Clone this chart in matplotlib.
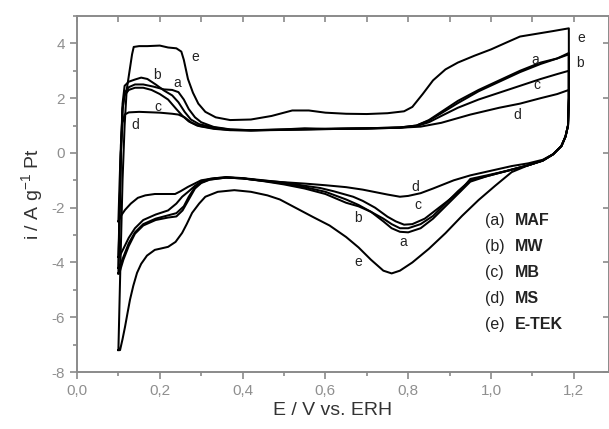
import matplotlib
matplotlib.use("Agg")
import matplotlib.pyplot as plt
from matplotlib.ticker import MultipleLocator, FuncFormatter

plt.rcParams['font.family'] = ['Liberation Sans', 'DejaVu Sans']

# ---- data: (E / V, i / A g-1 Pt), anodic sweep followed by cathodic sweep ----
maf_E = [0.100, 0.103, 0.106, 0.110, 0.115, 0.125, 0.140, 0.160, 0.185, 0.210, 0.230, 0.245, 0.258, 0.270,
         0.285, 0.300, 0.330, 0.370, 0.420, 0.500, 0.550, 0.600, 0.700, 0.780, 0.820, 0.850, 0.880, 0.920,
         0.970, 1.020, 1.070, 1.120, 1.160, 1.188,
         1.188, 1.186, 1.180, 1.170, 1.150, 1.125, 1.090, 1.040, 0.990, 0.950, 0.920, 0.890, 0.860, 0.830,
         0.800, 0.780, 0.760, 0.740, 0.710, 0.680, 0.650, 0.600, 0.550, 0.500, 0.450, 0.400, 0.360, 0.320,
         0.300, 0.285, 0.270, 0.255, 0.240, 0.220, 0.190, 0.160, 0.140, 0.125, 0.112, 0.102, 0.100]
maf_I = [-4.4, -2.0, 0.0, 1.6, 2.2, 2.4, 2.5, 2.5, 2.42, 2.32, 2.3, 2.22, 1.95, 1.6,
         1.3, 1.12, 0.95, 0.86, 0.83, 0.86, 0.9, 0.88, 0.9, 0.93, 1.0, 1.2, 1.5, 1.9,
         2.3, 2.65, 3.0, 3.3, 3.45, 3.6,
         2.0, 1.0, 0.6, 0.25, -0.05, -0.28, -0.45, -0.65, -0.85, -1.05, -1.5, -1.95, -2.4, -2.75,
         -2.9, -2.88, -2.75, -2.5, -2.15, -1.9, -1.7, -1.42, -1.25, -1.12, -1.02, -0.93, -0.9, -0.98,
         -1.1, -1.3, -1.7, -2.1, -2.32, -2.36, -2.45, -2.65, -2.95, -3.4, -3.9, -4.4, -4.4]

mw_E = [0.100, 0.103, 0.106, 0.110, 0.115, 0.125, 0.140, 0.155, 0.170, 0.190, 0.210, 0.230, 0.245, 0.260,
        0.275, 0.295, 0.330, 0.370, 0.420, 0.500, 0.600, 0.700, 0.780, 0.820, 0.850, 0.880, 0.920, 0.970,
        1.020, 1.070, 1.120, 1.160, 1.188,
        1.188, 1.186, 1.180, 1.170, 1.150, 1.125, 1.090, 1.040, 0.990, 0.950, 0.920, 0.890, 0.860, 0.830,
        0.800, 0.780, 0.760, 0.740, 0.710, 0.680, 0.650, 0.600, 0.550, 0.500, 0.450, 0.400, 0.360, 0.320,
        0.300, 0.285, 0.270, 0.258, 0.240, 0.220, 0.190, 0.160, 0.140, 0.125, 0.112, 0.102, 0.100]
mw_I = [-4.2, -2.0, 0.0, 1.8, 2.45, 2.6, 2.68, 2.75, 2.7, 2.5, 2.28, 2.1, 1.85, 1.5,
        1.22, 1.05, 0.93, 0.85, 0.83, 0.85, 0.88, 0.9, 0.93, 1.0, 1.18, 1.45, 1.82, 2.25,
        2.6, 2.95, 3.25, 3.45, 3.65,
        2.0, 1.0, 0.6, 0.25, -0.05, -0.28, -0.45, -0.65, -0.85, -1.0, -1.4, -1.85, -2.3, -2.6,
        -2.75, -2.75, -2.6, -2.4, -2.15, -1.95, -1.82, -1.5, -1.3, -1.15, -1.03, -0.93, -0.9, -0.97,
        -1.08, -1.25, -1.6, -1.95, -2.2, -2.28, -2.4, -2.6, -2.9, -3.3, -3.8, -4.2, -4.2]

mb_E = [0.100, 0.103, 0.106, 0.110, 0.115, 0.125, 0.140, 0.160, 0.180, 0.200, 0.220, 0.240, 0.255, 0.270,
        0.290, 0.330, 0.370, 0.420, 0.500, 0.600, 0.700, 0.780, 0.820, 0.850, 0.880, 0.920, 0.970, 1.020,
        1.070, 1.120, 1.160, 1.188,
        1.188, 1.186, 1.180, 1.170, 1.150, 1.125, 1.090, 1.040, 0.990, 0.950, 0.925, 0.900, 0.870, 0.840,
        0.810, 0.790, 0.770, 0.750, 0.720, 0.690, 0.667, 0.620, 0.587, 0.550, 0.500, 0.450, 0.400, 0.360,
        0.320, 0.300, 0.285, 0.270, 0.254, 0.240, 0.220, 0.190, 0.160, 0.140, 0.125, 0.112, 0.102, 0.100]
mb_I = [-3.8, -2.0, 0.0, 1.6, 2.1, 2.3, 2.38, 2.38, 2.3, 2.15, 1.95, 1.6, 1.35, 1.15,
        1.0, 0.9, 0.84, 0.82, 0.84, 0.87, 0.89, 0.92, 0.98, 1.12, 1.35, 1.65, 1.95, 2.2,
        2.45, 2.7, 2.88, 3.0,
        2.0, 1.0, 0.6, 0.25, -0.05, -0.28, -0.45, -0.65, -0.82, -0.95, -1.4, -1.7, -2.05, -2.4,
        -2.6, -2.62, -2.5, -2.33, -2.0, -1.75, -1.6, -1.4, -1.28, -1.2, -1.08, -1.0, -0.92, -0.88,
        -0.95, -1.05, -1.2, -1.4, -1.6, -1.85, -2.1, -2.25, -2.45, -2.75, -3.1, -3.5, -3.8, -3.8]

ms_E = [0.100, 0.103, 0.106, 0.110, 0.115, 0.125, 0.150, 0.200, 0.230, 0.245, 0.260, 0.275, 0.295, 0.330,
        0.370, 0.420, 0.500, 0.600, 0.700, 0.780, 0.830, 0.880, 0.950, 1.020, 1.070, 1.120, 1.160, 1.188,
        1.188, 1.186, 1.180, 1.170, 1.150, 1.125, 1.090, 1.050, 1.000, 0.950, 0.910, 0.890, 0.860, 0.830,
        0.800, 0.780, 0.750, 0.720, 0.690, 0.650, 0.600, 0.550, 0.490, 0.440, 0.400, 0.360, 0.333, 0.300,
        0.280, 0.268, 0.250, 0.237, 0.188, 0.165, 0.147, 0.130, 0.116, 0.106, 0.100]
ms_I = [-2.5, -1.0, 0.3, 1.1, 1.4, 1.48, 1.5, 1.47, 1.43, 1.4, 1.3, 1.12, 0.98, 0.88,
        0.83, 0.82, 0.85, 0.87, 0.89, 0.92, 0.96, 1.1, 1.4, 1.65, 1.8, 2.0, 2.15, 2.3,
        2.0, 1.0, 0.6, 0.25, -0.05, -0.25, -0.38, -0.48, -0.65, -0.82, -1.0, -1.12, -1.3, -1.47,
        -1.57, -1.6, -1.52, -1.43, -1.34, -1.25, -1.18, -1.12, -1.06, -1.0, -0.93, -0.9, -0.92, -1.0,
        -1.15, -1.24, -1.4, -1.5, -1.5, -1.55, -1.64, -1.85, -2.08, -2.3, -2.5]

etek_E = [0.100, 0.105, 0.110, 0.115, 0.120, 0.127, 0.133, 0.137, 0.150, 0.170, 0.200, 0.220, 0.240, 0.252,
          0.258, 0.268, 0.280, 0.293, 0.310, 0.335, 0.370, 0.420, 0.470, 0.520, 0.560, 0.600, 0.650, 0.700,
          0.750, 0.790, 0.810, 0.835, 0.860, 0.890, 0.920, 0.960, 1.000, 1.040, 1.070, 1.110, 1.150, 1.188,
          1.188, 1.186, 1.180, 1.170, 1.150, 1.125, 1.090, 1.050, 1.010, 0.970, 0.930, 0.890, 0.850, 0.810,
          0.780, 0.760, 0.740, 0.710, 0.680, 0.650, 0.610, 0.570, 0.540, 0.490, 0.460, 0.420, 0.380, 0.340,
          0.310, 0.295, 0.278, 0.265, 0.254, 0.238, 0.220, 0.200, 0.188, 0.169, 0.155, 0.145, 0.136, 0.128,
          0.122, 0.116, 0.110, 0.104, 0.100]
etek_I = [-7.2, -4.0, -1.0, 1.0, 2.3, 3.0, 3.6, 3.87, 3.9, 3.9, 3.92, 3.85, 3.82, 3.7,
          3.4, 2.7, 2.2, 1.8, 1.5, 1.3, 1.2, 1.22, 1.35, 1.55, 1.55, 1.47, 1.43, 1.42,
          1.45, 1.52, 1.68, 2.15, 2.65, 3.05, 3.3, 3.55, 3.78, 4.05, 4.25, 4.35, 4.45, 4.55,
          2.0, 1.0, 0.6, 0.25, -0.05, -0.28, -0.45, -0.7, -1.2, -1.72, -2.3, -2.93, -3.5, -4.0,
          -4.3, -4.4, -4.3, -3.9, -3.45, -3.07, -2.65, -2.34, -2.1, -1.7, -1.55, -1.42, -1.36, -1.42,
          -1.6, -1.85, -2.19, -2.6, -2.92, -3.25, -3.43, -3.5, -3.54, -3.75, -4.05, -4.38, -4.85, -5.36,
          -5.85, -6.35, -6.8, -7.2, -7.2]

# curve letters and their label positions (E, i)
curve_letters = ['a', 'b', 'c', 'd', 'e']
sample_names = ['MAF', 'MW', 'MB', 'MS', 'E-TEK']
label_pos_E = [0.242, 0.193, 0.196, 0.140, 0.285,
               1.106, 1.215, 1.110, 1.063, 1.217,
               0.787, 0.679, 0.824, 0.816, 0.679]
label_pos_I = [2.55, 2.85, 1.68, 1.02, 3.50,
               3.40, 3.28, 2.48, 1.39, 4.20,
               -3.25, -2.37, -1.90, -1.24, -3.98]
label_letters = curve_letters * 3

x_ticks = [0.0, 0.2, 0.4, 0.6, 0.8, 1.0, 1.2]
y_ticks = [-8, -6, -4, -2, 0, 2, 4]

# ---- figure ----
W, H = 609, 429
fig = plt.figure(figsize=(W / 100, H / 100), dpi=100)
ax = fig.add_axes([77 / W, 1 - 372 / H, (W - 77) / W, (372 - 16) / H])

for E, I in [(maf_E, maf_I), (mw_E, mw_I), (mb_E, mb_I), (ms_E, ms_I), (etek_E, etek_I)]:
    ax.plot(E, I, color='black', lw=1.45, solid_joinstyle='round')

ax.set_xlim(0, 1.285)
ax.set_ylim(-8, 5)

gray = '#8a8a8a'
for s in ax.spines.values():
    s.set_color(gray)
    s.set_linewidth(1.4)

ax.xaxis.set_major_locator(MultipleLocator(0.2))
ax.xaxis.set_minor_locator(MultipleLocator(0.1))
ax.yaxis.set_major_locator(MultipleLocator(2))
ax.yaxis.set_minor_locator(MultipleLocator(1))
ax.set_xticks(x_ticks)
ax.set_yticks(y_ticks)
ax.xaxis.set_major_formatter(FuncFormatter(lambda v, p: f"{v:.1f}".replace('.', ',')))
ax.yaxis.set_major_formatter(FuncFormatter(lambda v, p: f"{v:.0f}"))
ax.tick_params(which='both', direction='out', color=gray, labelcolor='#8f8f8f',
               labelsize=11, width=1.2, top=False, right=False)
ax.tick_params(which='major', length=5)
ax.tick_params(which='minor', length=3)

top = ax.secondary_xaxis('top')
top.xaxis.set_major_locator(MultipleLocator(0.2))
top.xaxis.set_minor_locator(MultipleLocator(0.1))
top.tick_params(which='both', direction='in', color=gray, labeltop=False, length=4, width=1.2)
top.spines['top'].set_visible(False)
right = ax.secondary_yaxis('right')
right.yaxis.set_major_locator(MultipleLocator(2))
right.tick_params(which='both', direction='in', color=gray, labelright=False, length=4, width=1.2)
right.spines['right'].set_visible(False)

ax.set_xlabel('E / V vs. ERH', fontsize=14, color='#333333', labelpad=6)
ax.xaxis.set_label_coords((333 - 77) / (W - 77), -0.085)
ax.set_ylabel('i / A g$^{\\mathregular{-1}}$ Pt', fontsize=14, color='#333333', labelpad=4)

for let, xe, yi in zip(label_letters, label_pos_E, label_pos_I):
    ax.text(xe, yi, let, fontsize=10, color='#222222', ha='center', va='center')

leg_y0 = -2.48
leg_dy = 0.95
for k, (let, name) in enumerate(zip(curve_letters, sample_names)):
    y = leg_y0 - k * leg_dy
    ax.text(0.986, y, f'({let})', fontsize=11.5, color='#222222', ha='left', va='center')
    ax.text(1.058, y, name, fontsize=11.5, fontweight='bold', color='#222222', ha='left', va='center')

fig.savefig('out.png', dpi=100)
